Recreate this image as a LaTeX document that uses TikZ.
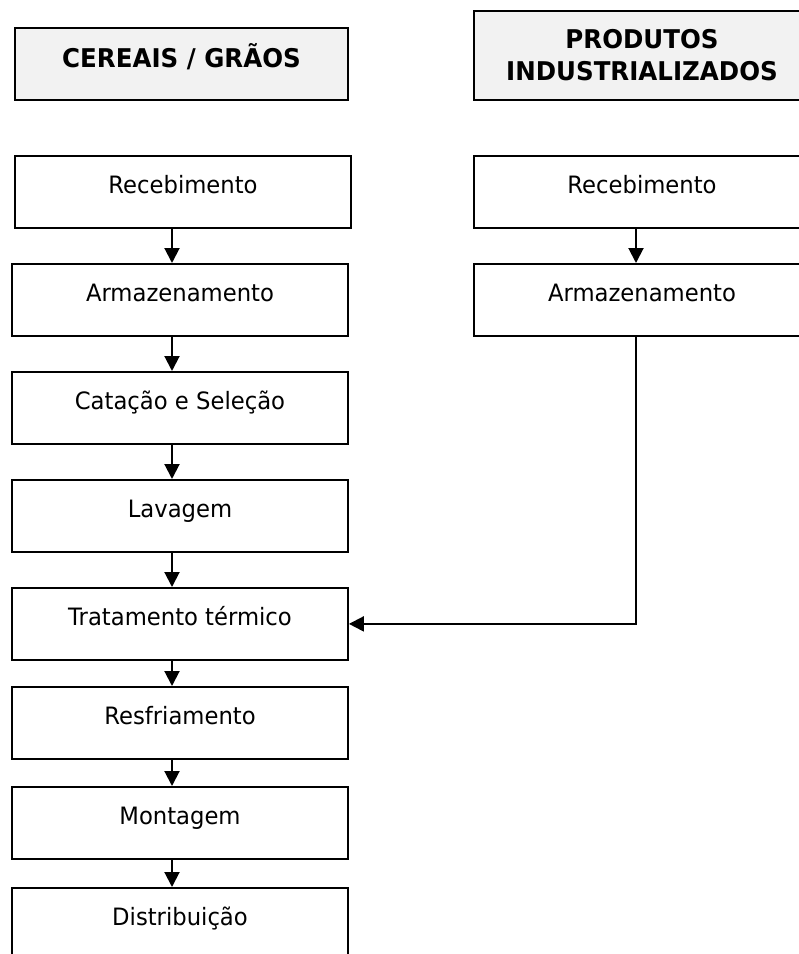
\documentclass[tikz,border=0pt]{standalone}
\usepackage{fontspec}
\setmainfont{DejaVu Sans}[FakeStretch=0.95]
\usetikzlibrary{arrows.meta}
\usetikzlibrary{positioning}

\begin{document}
\begin{tikzpicture}[x=1pt,y=-1pt,
  etapa/.style={draw,line width=1.8pt,minimum width=336pt,minimum height=72pt,inner sep=0pt,anchor=north,text height=20pt,text depth=16pt,font=\fontsize{23.9}{27}\selectfont},
  titulo/.style={draw,line width=1.8pt,fill=black!5,inner sep=0pt,anchor=north,font=\fontsize{25.8}{32}\selectfont\bfseries,align=center},
  fluxo/.style={line width=2pt,-{Triangle[length=15pt,width=15pt]}}]
\useasboundingbox (0,0) rectangle (799,954);
\clip (0,0) rectangle (799,954);

\node[titulo,minimum width=333pt,minimum height=72pt,text height=22pt,text depth=14pt] (cereais) at (181.5,27) {CEREAIS / GRÃOS};
\node[titulo,minimum width=336pt,minimum height=89pt] (produtos) at (642,10) {PRODUTOS\\INDUSTRIALIZADOS};

\coordinate (via1) at (172,0);
\coordinate (via2) at (636,0);

\node[etapa] (rec1) at (183,155) {Recebimento};
\node[etapa] (arm1) at (180,263) {Armazenamento};
\node[etapa] (cat) at (180,371) {Catação e Seleção};
\node[etapa] (lav) at (180,479) {Lavagem};
\node[etapa] (trat) at (180,587) {Tratamento térmico};
\node[etapa] (resf) at (180,686) {Resfriamento};
\node[etapa] (mont) at (180,786) {Montagem};
\node[etapa] (dist) at (180,887) {Distribuição};

\node[etapa] (rec2) at (642,155) {Recebimento};
\node[etapa] (arm2) at (642,263) {Armazenamento};

\draw[fluxo] (rec1.south -| via1) -- (arm1.north -| via1);
\draw[fluxo] (arm1.south -| via1) -- (cat.north -| via1);
\draw[fluxo] (cat.south -| via1) -- (lav.north -| via1);
\draw[fluxo] (lav.south -| via1) -- (trat.north -| via1);
\draw[fluxo] (trat.south -| via1) -- (resf.north -| via1);
\draw[fluxo] (resf.south -| via1) -- (mont.north -| via1);
\draw[fluxo] (mont.south -| via1) -- (dist.north -| via1);

\draw[fluxo] (rec2.south -| via2) -- (arm2.north -| via2);
\draw[fluxo] (arm2.south -| via2) |- (trat.east);

\end{tikzpicture}
\end{document}
